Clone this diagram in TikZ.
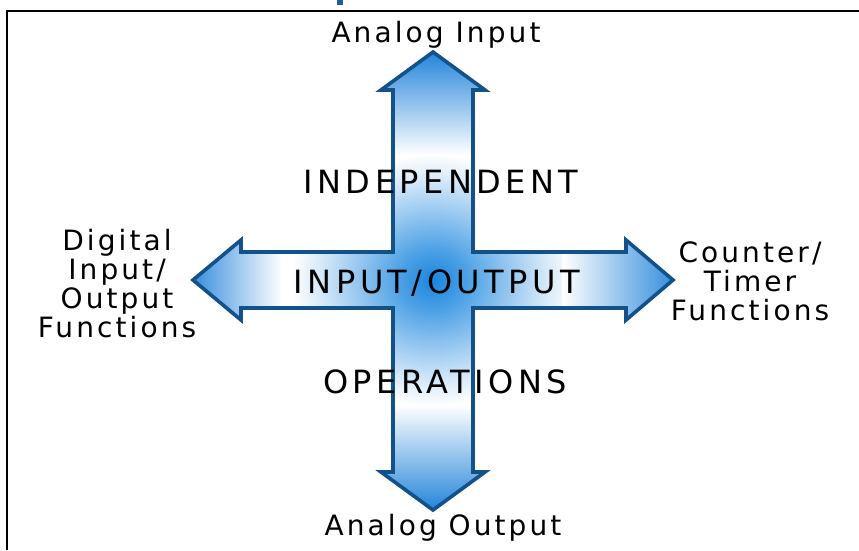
\documentclass[tikz,border=0pt]{standalone}
\usepackage{fontspec}
\setmainfont{DejaVu Sans}
\newfontfamily\crossfont{DejaVu Sans}[LetterSpace=14]
\newfontfamily\labfont{DejaVu Sans}[LetterSpace=11]
\definecolor{tipblue}{HTML}{1F82D9}
\definecolor{cblue}{HTML}{1A86DE}
\definecolor{edgeblue}{HTML}{13518A}
\definecolor{titleblue}{HTML}{1D5F9E}
\pgfdeclareradialshading{crossrad}{\pgfpoint{0bp}{0bp}}{color(0bp)=(cblue); color(6bp)=(cblue!78!white); color(12.5bp)=(cblue!50!white); color(20bp)=(cblue!18!white); color(25bp)=(white); color(50bp)=(white)}
\tikzset{
  crosstext/.style={font=\crossfont\fontsize{24pt}{28pt}\selectfont, anchor=base, inner sep=0pt},
  labeltext/.style={font=\labfont\fontsize{21pt}{21.75pt}\selectfont, align=center, inner sep=0pt},
  crossedge/.style={draw=edgeblue, line width=2.7pt, line join=miter}
}
\begin{document}
\begin{tikzpicture}[x=0.75pt, y=-0.75pt]
\useasboundingbox (0,0) rectangle (859,550);
% frame
\coordinate (fb) at (7,550);
\coordinate (fc) at (7,11);
\coordinate (fr) at (859,11);
\draw[line width=1.5pt] (fb) -- (fc) -- (fr);
% cut-off title stroke
\fill[titleblue] (336.5,0) rectangle (343.3,5);
% cross outline
\def\crosspath{(433,52) -- (485,90) -- (473,90) -- (473,252) -- (626,252) -- (626,240) -- (673,280) -- (626,320) -- (626,308) -- (473,308) -- (473,472) -- (485,472) -- (433,510) -- (381,472) -- (393,472) -- (393,308) -- (241,308) -- (241,320) -- (193,280) -- (241,240) -- (241,252) -- (393,252) -- (393,90) -- (381,90) -- cycle}
\begin{scope}
  \clip \crosspath;
  \fill[white] (180,40) rectangle (690,520);
  \shade[shading=crossrad] (433,280) ellipse [x radius=142, y radius=126];
  \shade[top color=tipblue, bottom color=white] (378,50) rectangle (488,155);
  \shade[top color=white, bottom color=tipblue] (378,405) rectangle (488,512);
  \shade[left color=tipblue!92!white, right color=white] (190,236) rectangle (282,324);
  \shade[left color=white, right color=tipblue!92!white] (562,236) rectangle (676,324);
\end{scope}
\draw[crossedge] \crosspath;
% texts
\node[crosstext] (indep) at (441,193) {INDEPENDENT};
\node[crosstext] (io) at (437,293) {INPUT/OUTPUT};
\node[crosstext] (ops) at (445,393) {OPERATIONS};
\node[labeltext, anchor=base] (ain) at (436,42) {Analog Input};
\node[labeltext, anchor=base] (aout) at (443,535) {Analog Output};
\node[labeltext, anchor=base] (dig) at (117,337) {Digital\\Input/\\Output\\Functions};
\node[labeltext, anchor=base] (ctr) at (750,320) {Counter/\\Timer\\Functions};
\end{tikzpicture}
\end{document}
